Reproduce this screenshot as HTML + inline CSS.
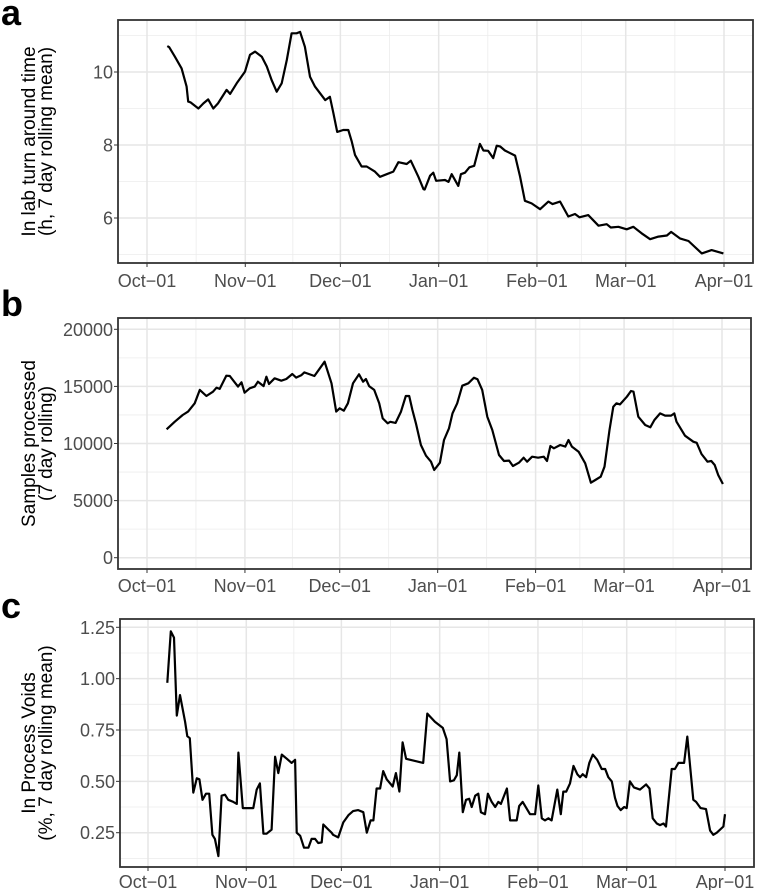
<!DOCTYPE html>
<html><head><meta charset="utf-8"><style>
html,body{margin:0;padding:0;background:#fff;}
svg{display:block;font-family:"Liberation Sans",Arial,sans-serif;}
</style></head><body>
<svg id="fig" width="761" height="890" viewBox="0 0 761 890">
<text x="1" y="25" font-size="36" font-weight="bold">a</text>
<text x="1" y="316" font-size="36" font-weight="bold">b</text>
<text x="1" y="618" font-size="36" font-weight="bold">c</text>
</svg>
<script>
// shared x-axis data
const monthLabels = ["Oct\u221201","Nov\u221201","Dec\u221201","Jan\u221201","Feb\u221201","Mar\u221201","Apr\u221201"];
const monthDays = [0,31,61,92,123,151,182];

// panel a: turnaround time
const aDays = [6.4,7,8.8,10.9,12.5,13,13.7,16.2,17.8,19.3,20.9,22.4,25.1,26.2,28.3,30.9,32.5,34.1,36.2,37.8,39.3,40.9,42.5,44.1,45.6,47.2,48.3,49.8,51.4,53,56.2,57.7,58.8,60,61.9,63.5,64.6,65.6,67.7,69.3,71.9,73.5,75.6,77.7,79.3,81.9,83.2,85.6,87.2,87.6,89.3,90.3,91.2,94,95.1,96.1,98.2,99,100.3,101.7,103.2,105,106.1,107.6,109.2,110.3,111.4,112.9,116.1,117.7,119.2,121.3,124,126.6,127.9,130.3,132.9,135,136.4,139.2,142.4,145,146.3,148.7,151.3,153.4,156,158.7,161.3,164,165.3,168.1,170.8,175,178.1,181.8];
const aVals = [10.71,10.68,10.42,10.1,9.6,9.19,9.17,9.0,9.14,9.25,9.0,9.14,9.51,9.4,9.69,10.01,10.47,10.56,10.42,10.15,9.78,9.46,9.69,10.33,11.06,11.06,11.1,10.69,9.87,9.6,9.23,9.32,8.87,8.36,8.41,8.41,8.09,7.73,7.41,7.41,7.27,7.13,7.2,7.27,7.53,7.48,7.57,7.13,6.79,6.78,7.16,7.24,7.02,7.04,6.99,7.2,6.88,7.2,7.24,7.39,7.43,8.03,7.85,7.84,7.64,7.98,7.96,7.85,7.71,7.13,6.47,6.4,6.24,6.45,6.38,6.45,6.04,6.11,6.02,6.08,5.79,5.83,5.74,5.76,5.69,5.76,5.58,5.42,5.49,5.52,5.62,5.44,5.37,5.03,5.12,5.03];
const aTicks = [6,8,10];

// panel b: samples processed
const bDays = [6.2,8.8,11.3,13,15.1,16.7,18.8,20.9,22,23,25.1,26.2,28.8,29.9,30.9,32.5,34.1,35.1,36.9,37.8,38.6,40.4,42.5,44.1,46,47.2,48.8,49.8,53,56.2,58.4,59.9,61,62.3,63.6,65.2,67.1,68.4,69.3,70.3,71.9,73.5,74.6,76.2,77,78.7,80.4,81.9,83,84,85.1,86.7,88.3,89.9,90.9,92.7,94,95.6,96.7,98.2,99.8,101.7,103.5,104.6,106.1,107.7,109.3,111.4,113,114.6,115.8,117.7,119.2,120.3,121.9,123.8,125.6,126.6,127.7,128.8,130.8,132.4,133.4,134.5,136.6,138.7,140.5,141.9,143.6,144.8,146.4,147.6,148.6,149.7,151.9,153.2,154,155.5,157.7,159.3,160.6,162.4,164,165.9,166.9,167.6,170.3,172.9,174,175.5,177.4,178.6,179.7,180.8,182.3];
const bVals = [11240,11910,12500,12790,13520,14690,14160,14540,14890,14780,15940,15910,14980,15360,14450,14830,14980,15410,15030,15850,15210,15710,15500,15650,16090,15770,15970,16230,15910,17160,15270,12790,13080,12870,13520,15270,16060,15410,15650,15030,14690,13520,12200,11770,11900,11800,12790,14160,14160,12930,11770,9870,8930,8410,7680,8320,10310,11330,12640,13520,15060,15270,15760,15620,14690,12350,11180,8990,8470,8500,8030,8320,8760,8410,8840,8760,8840,8470,9780,9580,9870,9730,10310,9730,9280,8270,6570,6800,7090,7970,11180,13220,13520,13420,14100,14600,14540,12350,11620,11420,12060,12640,12440,12440,12640,11910,10680,10160,10060,9080,8410,8470,8120,7240,6450];
const bTicks = [0,5000,10000,15000,20000];

// panel c: in process voids
const cDays = [6.1,7.2,8.2,9.1,10.1,11.7,12.4,13.2,14.3,15.4,16.2,17.2,18.3,19.3,20.3,21.1,22.2,23.2,24.3,25.3,26.9,28,28.5,29.9,33.2,34.3,35.3,36.4,37.4,39,40.1,41.1,42.2,43.8,45.3,46.4,46.9,48,49.2,50.6,51.6,52.7,53.7,54.8,55.3,56.9,57.9,58.4,60,61.6,63.2,64.7,66.3,67.9,69,70.2,71.1,72.1,73.2,74.2,75.3,77.2,78.2,79.3,80.3,81.4,86.8,88.1,90.5,93,94.2,95.3,96.5,97.4,98.2,99.3,100.3,101.3,102.1,103.2,104.2,105,106.3,107.2,108.4,109.5,110.5,111.3,113.2,114.2,116.3,117.1,118.2,120.5,122.1,123.1,124.2,125.2,126.3,127.3,129.1,130.2,131,131.9,133.1,134.2,135.4,136.3,137.1,138.2,139.2,140.3,141.7,143.1,144.2,145.2,146.3,147.3,148.1,149.1,150.2,151,152,153.3,155.2,157.1,158.2,159.2,160.5,161.5,162.6,163.4,165.2,166.2,167.3,169.1,170.1,172,172.9,174.3,176,177.3,178.3,179.4,181.5,182];
const cVals = [0.98,1.23,1.2,0.82,0.92,0.79,0.72,0.71,0.445,0.515,0.51,0.41,0.44,0.44,0.24,0.22,0.136,0.43,0.435,0.41,0.4,0.39,0.64,0.37,0.37,0.46,0.49,0.245,0.245,0.265,0.62,0.54,0.63,0.61,0.59,0.605,0.25,0.235,0.177,0.177,0.22,0.22,0.2,0.203,0.29,0.265,0.25,0.24,0.227,0.3,0.335,0.355,0.36,0.35,0.25,0.31,0.31,0.465,0.465,0.55,0.51,0.475,0.54,0.45,0.69,0.61,0.59,0.83,0.79,0.76,0.705,0.5,0.505,0.53,0.64,0.35,0.41,0.415,0.375,0.43,0.44,0.35,0.34,0.44,0.4,0.375,0.4,0.39,0.465,0.31,0.31,0.38,0.4,0.34,0.34,0.48,0.32,0.31,0.32,0.31,0.46,0.34,0.45,0.45,0.49,0.575,0.535,0.52,0.535,0.52,0.59,0.63,0.605,0.56,0.56,0.52,0.5,0.42,0.38,0.36,0.375,0.37,0.5,0.47,0.46,0.485,0.465,0.32,0.295,0.287,0.295,0.28,0.56,0.56,0.59,0.59,0.718,0.41,0.4,0.37,0.365,0.26,0.24,0.25,0.28,0.34];
const cTicks = [0.25,0.5,0.75,1.0,1.25];

const NS = "http://www.w3.org/2000/svg";
const svg = document.getElementById('fig');
function mk(tag, attrs, parent){
  const e = document.createElementNS(NS, tag);
  for (const k in attrs) e.setAttribute(k, attrs[k]);
  (parent||svg).appendChild(e);
  return e;
}

function drawPanel(p){
  const g = mk('g', {});
  
  
  const xs = d => p.x0 + (d - 0) * (p.x1 - p.x0) / 182;
  const ys = v => p.yv0 + (v - p.v0) * (p.yv1 - p.yv0) / (p.v1 - p.v0);
  const bg = mk('rect', {x:p.L, y:p.T, width:p.R-p.L, height:p.B-p.T, fill:'#fff'}, g);
  
  
  for (let i = 0; i < p.ticks.length + 1; i++){
    const step = p.ticks[1] - p.ticks[0];
    const v = p.ticks[0] - step/2 + i*step;
    const y = ys(v);
    if (y > p.T && y < p.B){
      const l = mk('line', {x1:p.L, x2:p.R, y1:y, y2:y, stroke:'#ececec', 'stroke-width':0.8}, g);
      
      
    }
  }
  for (let i = 0; i < monthDays.length - 1; i++){
    const x = xs((monthDays[i] + monthDays[i+1]) / 2);
    const l = mk('line', {x1:x, x2:x, y1:p.T, y2:p.B, stroke:'#ececec', 'stroke-width':0.8}, g);
    
    
  }
  p.ticks.forEach(v => {
    const y = ys(v);
    const l = mk('line', {x1:p.L, x2:p.R, y1:y, y2:y, stroke:'#e6e6e6', 'stroke-width':1.5}, g);
    
    
    const t = mk('line', {x1:p.L-4, x2:p.L, y1:y, y2:y, stroke:'#333', 'stroke-width':1}, g);
    
    
    const tx = mk('text', {x:p.L-5, y:y+6.5, 'text-anchor':'end', 'font-size':18, fill:'#4d4d4d'}, g);
    tx.textContent = p.fmt(v);
    
    
  });
  monthDays.forEach((d, i) => {
    const x = xs(d);
    const l = mk('line', {x1:x, x2:x, y1:p.T, y2:p.B, stroke:'#e6e6e6', 'stroke-width':1.5}, g);
    
    
    const t = mk('line', {x1:x, x2:x, y1:p.B, y2:p.B+4, stroke:'#333', 'stroke-width':1}, g);
    
    
    const tx = mk('text', {x:x, y:p.B+p.lab, 'text-anchor':'middle', 'font-size':18, fill:'#4d4d4d'}, g);
    tx.textContent = monthLabels[i];
    
    
  });
  let dstr = '';
  p.days.forEach((d, i) => { dstr += (i ? 'L' : 'M') + xs(d).toFixed(1) + ',' + ys(p.vals[i]).toFixed(1); });
  const path = mk('path', {d:dstr, fill:'none', stroke:'#000', 'stroke-width':2.2, 'stroke-linejoin':'round'}, g);
  
  
  const br = mk('rect', {x:p.L, y:p.T, width:p.R-p.L, height:p.B-p.T, fill:'none', stroke:'#333', 'stroke-width':1.8}, g);
  
  
  const cy = (p.T + p.B) / 2;
  const tt = mk('text', {transform:'translate(35,'+cy+') rotate(-90)', 'text-anchor':'middle', 'font-size':19, fill:'#000'}, g);
  const s1 = mk('tspan', {x:0, y:0}, tt); s1.textContent = p.title1;
  const s2 = mk('tspan', {x:0, y:17}, tt); s2.textContent = p.title2;
  
  
}

drawPanel({id:'panel-a', L:118, R:753, T:20, B:263, x0:147, x1:724, v0:10, yv0:72, v1:6, yv1:218, lab:24,
  ticks:aTicks, days:aDays, vals:aVals, fmt:v=>String(v),
  title1:'In lab turn around time', title2:'(h, 7 day rolling mean)'});
drawPanel({id:'panel-b', L:118, R:751, T:318, B:569, x0:147, x1:722, v0:0, yv0:557.7, v1:20000, yv1:329.3, lab:23,
  ticks:bTicks, days:bDays, vals:bVals, fmt:v=>String(v),
  title1:'Samples processed', title2:'(7 day rolling)'});
drawPanel({id:'panel-c', L:120, R:754, T:619, B:867, x0:148, x1:725, v0:0.25, yv0:832.7, v1:1.25, yv1:627.3, lab:21,
  ticks:cTicks, days:cDays, vals:cVals, fmt:v=>v.toFixed(2),
  title1:'In Process Voids', title2:'(%, 7 day rolling mean)'});
</script>
</body></html>
